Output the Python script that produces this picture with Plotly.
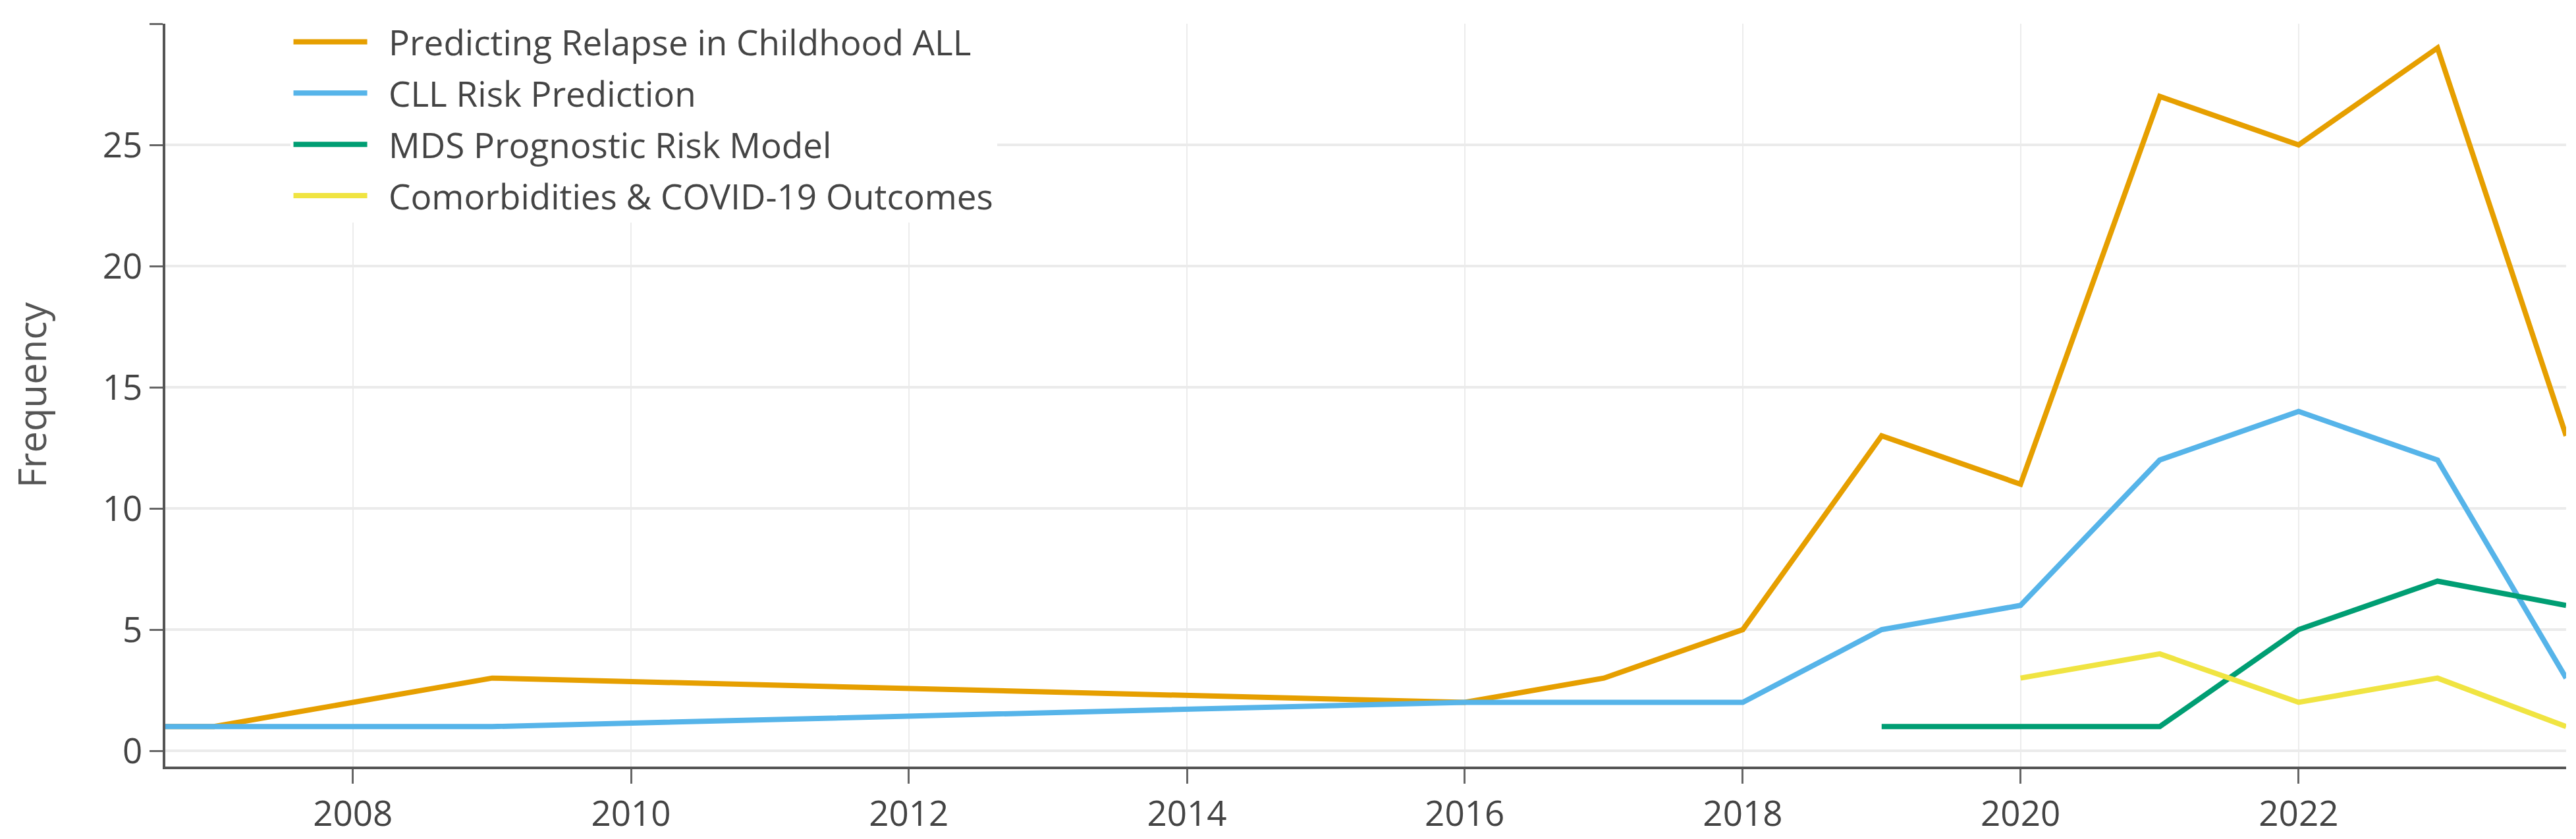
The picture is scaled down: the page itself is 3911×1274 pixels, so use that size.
import plotly.graph_objects as go

# series data (x are dates, y are yearly frequencies)
series_names = [
    "Predicting Relapse in Childhood ALL",
    "CLL Risk Prediction",
    "MDS Prognostic Risk Model",
    "Comorbidities & COVID-19 Outcomes",
]
colors = ["#E69F00", "#56B4E9", "#009E73", "#F0E442"]

all_x = ["2006-08-26", "2007-01-01", "2009-01-01", "2016-01-01", "2017-01-01", "2018-01-01",
         "2019-01-01", "2020-01-01", "2021-01-01", "2022-01-01", "2023-01-01", "2023-12-05"]
all_y = [1, 1, 3, 2, 3, 5, 13, 11, 27, 25, 29, 13]

cll_x = ["2006-08-26", "2009-01-01", "2016-01-01", "2018-01-01", "2019-01-01", "2020-01-01",
         "2021-01-01", "2022-01-01", "2023-01-01", "2023-12-05"]
cll_y = [1, 1, 2, 2, 5, 6, 12, 14, 12, 3]

mds_x = ["2019-01-01", "2020-01-01", "2021-01-01", "2022-01-01", "2023-01-01", "2023-12-05"]
mds_y = [1, 1, 1, 5, 7, 6]

covid_x = ["2020-01-01", "2021-01-01", "2022-01-01", "2023-01-01", "2023-12-05"]
covid_y = [3, 4, 2, 3, 1]

xs = [all_x, cll_x, mds_x, covid_x]
ys = [all_y, cll_y, mds_y, covid_y]

fig = go.Figure()
for i, (name, x, y, c) in enumerate(zip(series_names, xs, ys, colors)):
    # non-breaking spaces widen the gap between legend line and label
    fig.add_trace(go.Scatter(x=x, y=y, mode="lines", name="\u00a0\u00a0" + name,
                             legendgroup=f"g{i}",
                             line=dict(color=c, width=8)))

font = "Open Sans, Verdana, Arial, sans-serif"

fig.update_layout(
    width=3911, height=1274,
    margin=dict(l=243, r=23, t=28, b=113),
    paper_bgcolor="white", plot_bgcolor="white",
    font=dict(family=font, size=53, color="#444"),
    legend=dict(x=0.052, y=1.012, xanchor="left", yanchor="top",
                bgcolor="white", font=dict(size=53, color="#444"),
                itemwidth=112, tracegroupgap=6),
    showlegend=True,
)

fig.update_xaxes(
    type="date",
    range=["2006-08-26", "2023-12-05"],
    tick0="2008-01-01", dtick="M24", tickformat="%Y",
    showgrid=True, gridcolor="#ececec", gridwidth=2,
    showline=True, linecolor="#555", linewidth=4,
    ticks="outside", ticklen=22, tickwidth=3, tickcolor="#666",
    zeroline=False,
)
fig.update_yaxes(
    range=[-0.65, 30.0],
    tick0=0, dtick=5,
    showgrid=True, gridcolor="#ebebeb", gridwidth=4,
    showline=True, linecolor="#555", linewidth=4,
    ticks="outside", ticklen=20, tickwidth=3, tickcolor="#666",
    zeroline=False,
    title=dict(text="Frequency", font=dict(size=58, color="#555"), standoff=70),
)

fig.write_html("out.html")
